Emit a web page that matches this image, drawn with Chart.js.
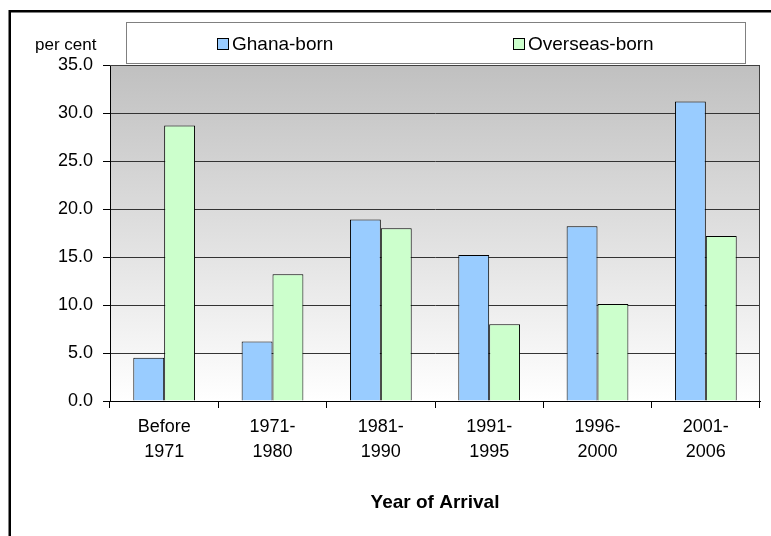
<!DOCTYPE html>
<html lang="en">
<head>
    <meta charset="UTF-8">
    <title>Year of Arrival</title>
    <script src="https://cdn.jsdelivr.net/npm/chart.js"></script>
    <style>
        body {
            margin: 0;
            background-color: #ffffff;
        }
        .chart-wrap {
            width: 771px;
            height: 536px;
        }
    </style>
</head>
<body>
    <div class="chart-wrap">
        <canvas id="arrivalChart" width="771" height="536"></canvas>
    </div>

    <script>
        // data
        const categories = [
            ['Before', '1971'],
            ['1971-', '1980'],
            ['1981-', '1990'],
            ['1991-', '1995'],
            ['1996-', '2000'],
            ['2001-', '2006']
        ];
        const seriesNames = ['Ghana-born', 'Overseas-born'];
        const ghanaBorn = [4.5, 6.2, 18.9, 15.2, 18.2, 31.2];
        const overseasBorn = [28.7, 13.2, 18.0, 8.0, 10.1, 17.2];
        const yTicks = [0, 5, 10, 15, 20, 25, 30, 35];

        const fontFamily = "'Liberation Sans', Arial, sans-serif";

        // page frame, gradient behind the bars, plot border, legend box and unit label
        const decorations = {
            id: 'decorations',
            beforeDraw(chart) {
                const ctx = chart.ctx;
                const area = chart.chartArea;
                ctx.save();
                ctx.fillStyle = '#ffffff';
                ctx.fillRect(0, 0, chart.width, chart.height);

                const grad = ctx.createLinearGradient(0, area.top, 0, area.bottom);
                grad.addColorStop(0, '#c0c0c0');
                grad.addColorStop(1, '#ffffff');
                ctx.fillStyle = grad;
                ctx.fillRect(area.left, area.top, area.right - area.left, area.bottom - area.top);

                ctx.strokeStyle = '#000000';
                ctx.lineWidth = 2.5;
                ctx.strokeRect(9.75, 11.25, chart.width + 20, chart.height + 20);
                ctx.restore();
            },
            afterDraw(chart) {
                const ctx = chart.ctx;
                const area = chart.chartArea;
                ctx.save();

                // top and right edge of the plot area
                ctx.strokeStyle = '#404040';
                ctx.lineWidth = 1;
                ctx.beginPath();
                ctx.moveTo(area.left, area.top + 0.5);
                ctx.lineTo(area.right - 0.5, area.top + 0.5);
                ctx.lineTo(area.right - 0.5, area.bottom);
                ctx.stroke();

                // legend box
                ctx.fillStyle = '#ffffff';
                ctx.fillRect(126.5, 22.5, 619, 41);
                ctx.strokeStyle = '#808080';
                ctx.strokeRect(126.5, 22.5, 619, 41);

                const itemX = [217, 513];
                ctx.font = '19px ' + fontFamily;
                ctx.textBaseline = 'alphabetic';
                chart.data.datasets.forEach((ds, i) => {
                    ctx.fillStyle = ds.backgroundColor;
                    ctx.fillRect(itemX[i] + 0.5, 38.5, 11, 11);
                    ctx.strokeStyle = '#000000';
                    ctx.strokeRect(itemX[i] + 0.5, 38.5, 11, 11);
                    ctx.fillStyle = '#000000';
                    ctx.fillText(ds.label, itemX[i] + 15, 50);
                });

                // unit label over the y axis
                ctx.font = '17px ' + fontFamily;
                ctx.fillStyle = '#000000';
                ctx.fillText('per cent', 35, 50);
                ctx.restore();
            }
        };

        const ctx = document.getElementById('arrivalChart').getContext('2d');
        new Chart(ctx, {
            type: 'bar',
            data: {
                labels: categories,
                datasets: [{
                    label: seriesNames[0],
                    data: ghanaBorn,
                    backgroundColor: '#99ccff',
                    borderColor: '#000000',
                    borderWidth: 1
                }, {
                    label: seriesNames[1],
                    data: overseasBorn,
                    backgroundColor: '#ccffcc',
                    borderColor: '#000000',
                    borderWidth: 1
                }]
            },
            options: {
                responsive: false,
                animation: false,
                categoryPercentage: 0.57,
                barPercentage: 1.0,
                layout: {
                    padding: { left: 0, right: 11, top: 65, bottom: 0 }
                },
                plugins: {
                    legend: { display: false },
                    tooltip: { enabled: false }
                },
                scales: {
                    x: {
                        grid: {
                            offset: true,
                            drawOnChartArea: false,
                            color: '#000000',
                            tickLength: 7
                        },
                        border: { color: '#000000', width: 1 },
                        ticks: {
                            color: '#000000',
                            padding: 6,
                            maxRotation: 0,
                            font: { family: fontFamily, size: 18, lineHeight: 1.4 }
                        },
                        title: {
                            display: true,
                            text: 'Year of Arrival',
                            color: '#000000',
                            font: { family: fontFamily, size: 19, weight: 'bold' },
                            padding: { top: 0, bottom: 22 }
                        },
                        afterFit(scale) {
                            scale.height = 135;
                        }
                    },
                    y: {
                        min: 0,
                        max: 35,
                        afterBuildTicks(scale) {
                            scale.ticks = yTicks.map(v => ({ value: v }));
                        },
                        grid: {
                            color: '#333333',
                            tickColor: '#000000',
                            tickLength: 7
                        },
                        border: { color: '#000000', width: 1 },
                        ticks: {
                            color: '#000000',
                            padding: 10,
                            font: { family: fontFamily, size: 18 },
                            callback: v => v.toFixed(1)
                        },
                        afterFit(scale) {
                            scale.width = 110;
                        }
                    }
                }
            },
            plugins: [decorations]
        });
    </script>
</body>
</html>
